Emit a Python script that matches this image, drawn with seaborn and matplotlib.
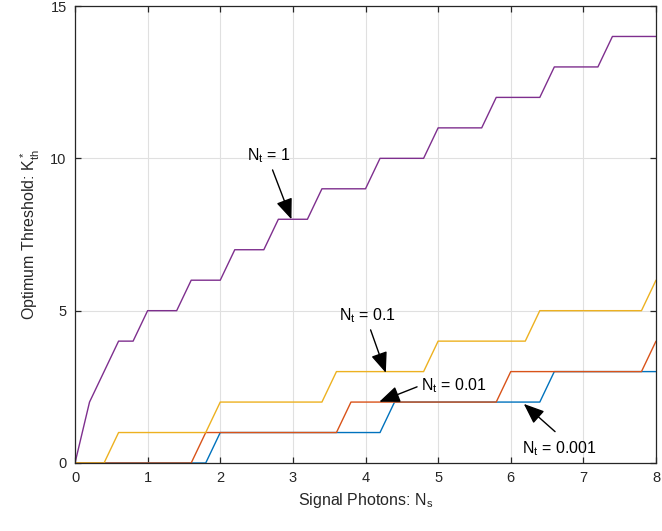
import numpy as np
import pandas as pd
import matplotlib
matplotlib.use("Agg")
import matplotlib.pyplot as plt
import seaborn as sns

# ---- data ----
signal_photons = [round(0.2 * i, 1) for i in range(41)]
k_nt_0001 = [0]*10 + [1]*12 + [2]*11 + [3]*8
k_nt_001 = [0]*9 + [1]*10 + [2]*11 + [3]*10 + [4]
k_nt_01 = [0]*3 + [1]*7 + [2]*8 + [3]*7 + [4]*7 + [5]*8 + [6]
k_nt_1 = [0, 2, 3, 4, 4, 5, 5, 5, 6, 6, 6, 7, 7, 7, 8, 8, 8, 9, 9, 9, 9,
          10, 10, 10, 10, 11, 11, 11, 11, 12, 12, 12, 12, 13, 13, 13, 13,
          14, 14, 14, 14]
series_labels = ["0.001", "0.01", "0.1", "1"]
colors = ["#0072BD", "#D95319", "#EDB120", "#7E2F8E"]
x_ticks = [0, 1, 2, 3, 4, 5, 6, 7, 8]
y_ticks = [0, 5, 10, 15]

df = pd.DataFrame({
    "Ns": signal_photons * 4,
    "K": k_nt_0001 + k_nt_001 + k_nt_01 + k_nt_1,
    "Nt": sum([[lab] * len(signal_photons) for lab in series_labels], []),
})

sns.set_theme(style="white")
plt.rcParams["font.family"] = ["Liberation Sans", "DejaVu Sans"]
plt.rcParams["mathtext.default"] = "regular"

fig = plt.figure(figsize=(6.62, 5.31), dpi=100)
ax = fig.add_axes([75/662, 1-463/531, (656-75)/662, (463-6)/531])

sns.lineplot(data=df, x="Ns", y="K", hue="Nt", hue_order=series_labels,
             palette=colors, estimator=None, linewidth=1.0, ax=ax,
             legend=False, sort=True)

ax.set_xlim(0, 8)
ax.set_ylim(0, 15)
ax.set_xticks(x_ticks)
ax.set_yticks(y_ticks)
ax.grid(True, color="#e0e0e0", linewidth=0.8)
ax.set_axisbelow(True)
for s in ax.spines.values():
    s.set_visible(True)
    s.set_color("#262626")
    s.set_linewidth(0.9)
ax.tick_params(direction="in", length=4, width=0.9, colors="#262626",
               labelsize=10.5, top=True, right=True, bottom=True, left=True,
               pad=6)
ax.set_xlabel("Signal Photons: $N_s$", fontsize=11.5, color="#262626", labelpad=4)
ax.set_ylabel("Optimum Threshold: $K^*_{th}$", fontsize=11.5, color="#262626", labelpad=6)

annotations = [
    ("$N_t$ = 1", (2.37, 9.94), (2.72, 9.62), (2.98, 8.0)),
    ("$N_t$ = 0.1", (3.63, 4.69), (4.07, 4.37), (4.28, 2.96)),
    ("$N_t$ = 0.01", (4.76, 2.40), (4.71, 2.50), (4.19, 2.01)),
    ("$N_t$ = 0.001", (6.15, 0.32), (6.61, 1.03), (6.18, 1.94)),
]
for text, tpos, tail, head in annotations:
    ax.text(tpos[0], tpos[1], text, fontsize=11.5, color="black",
            ha="left", va="baseline")
    ax.annotate("", xy=head, xytext=tail,
                arrowprops=dict(arrowstyle="-|>,head_length=1.05,head_width=0.42",
                                color="black", lw=1.0, shrinkA=0, shrinkB=0))

fig.savefig("out.png", dpi=100)
